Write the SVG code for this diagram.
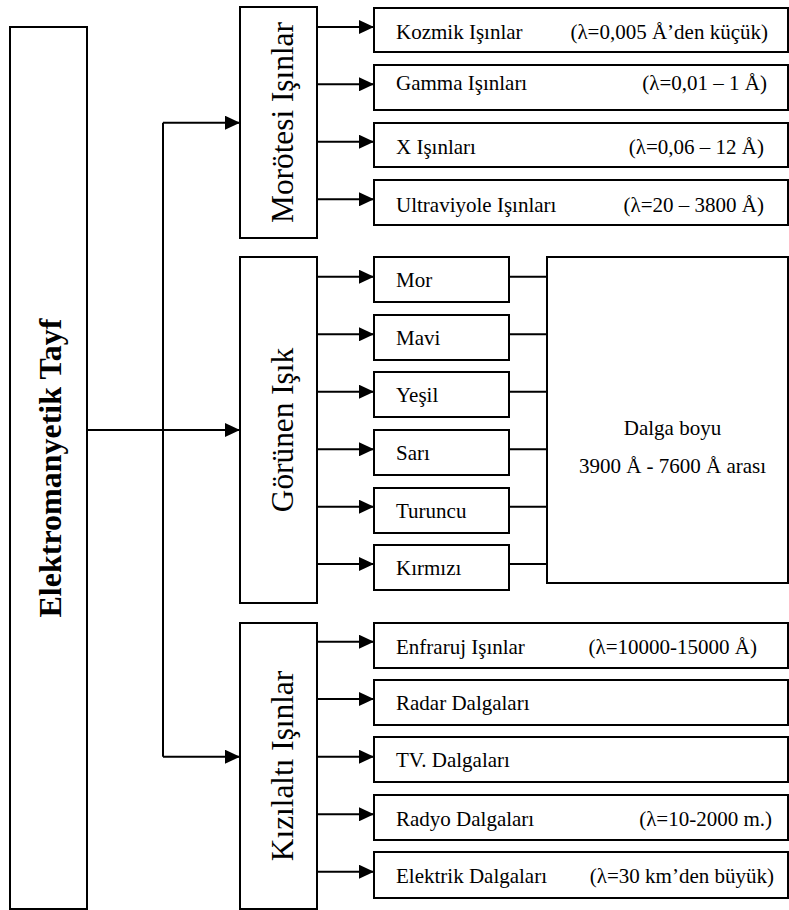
<svg xmlns="http://www.w3.org/2000/svg" width="789" height="910" viewBox="0 0 789 910">
<style>
.box{fill:#fff;stroke:#000;stroke-width:2}
.ln{fill:none;stroke:#000;stroke-width:2}
.t{font-family:"Liberation Serif","Times New Roman",serif;font-size:21px;fill:#000}
.v{font-family:"Liberation Serif","Times New Roman",serif;font-size:31.3px;fill:#000}
.b{font-family:"Liberation Serif","Times New Roman",serif;font-size:32px;font-weight:bold;fill:#000}
</style>
<defs>
<marker id="ah" markerUnits="userSpaceOnUse" markerWidth="15" markerHeight="14" refX="15" refY="7" orient="auto">
<path d="M0,0 L15,7 L0,14 Z" fill="#000"/>
</marker>
</defs>
<rect width="789" height="910" fill="#fff"/>
<g id="connectors">
<path class="ln" d="M163,122.7 V756.7"/>
<path class="ln" d="M163,122.7 H240" marker-end="url(#ah)"/>
<path class="ln" d="M87,430 H240" marker-end="url(#ah)"/>
<path class="ln" d="M163,756.7 H240" marker-end="url(#ah)"/>
<path class="ln" d="M317,27 H374" marker-end="url(#ah)"/>
<path class="ln" d="M317,84.3 H374" marker-end="url(#ah)"/>
<path class="ln" d="M317,141.7 H374" marker-end="url(#ah)"/>
<path class="ln" d="M317,199.3 H374" marker-end="url(#ah)"/>
<path class="ln" d="M317,276.7 H374" marker-end="url(#ah)"/>
<path class="ln" d="M317,334.3 H374" marker-end="url(#ah)"/>
<path class="ln" d="M317,391.7 H374" marker-end="url(#ah)"/>
<path class="ln" d="M317,449.3 H374" marker-end="url(#ah)"/>
<path class="ln" d="M317,506.7 H374" marker-end="url(#ah)"/>
<path class="ln" d="M317,564 H374" marker-end="url(#ah)"/>
<path class="ln" d="M509,276.7 H547 M509,334.3 H547 M509,391.7 H547 M509,449.3 H547 M509,506.7 H547 M509,564 H547"/>
<path class="ln" d="M317,641.7 H374" marker-end="url(#ah)"/>
<path class="ln" d="M317,699 H374" marker-end="url(#ah)"/>
<path class="ln" d="M317,756.7 H374" marker-end="url(#ah)"/>
<path class="ln" d="M317,814.3 H374" marker-end="url(#ah)"/>
<path class="ln" d="M317,871.7 H374" marker-end="url(#ah)"/>
</g>
<g id="elektromanyetik">
<rect class="box" x="10" y="27" width="77" height="882"/>
<text class="b" transform="translate(60.5,468) rotate(-90)" text-anchor="middle">Elektromanyetik  Tayf</text>
</g>
<g id="morotesi">
<rect class="box" x="240" y="7" width="77" height="231"/>
<text class="v" transform="translate(292.5,122.5) rotate(-90)" text-anchor="middle">Morötesi Işınlar</text>
</g>
<g id="gorunen">
<rect class="box" x="240" y="257" width="77" height="346"/>
<text class="v" transform="translate(292.5,430) rotate(-90)" text-anchor="middle">Görünen Işık</text>
</g>
<g id="kizilalti">
<rect class="box" x="240" y="623" width="77" height="286"/>
<text class="v" transform="translate(292.5,766) rotate(-90)" text-anchor="middle">Kızılaltı Işınlar</text>
</g>
<g id="kozmik">
<rect class="box" x="374" y="8" width="414" height="44"/>
<text class="t" x="396" y="39">Kozmik Işınlar</text>
<text class="t" x="768" y="39" text-anchor="end">(λ=0,005 Å’den küçük)</text>
</g>
<g id="gamma">
<rect class="box" x="374" y="65" width="414" height="45"/>
<text class="t" x="396" y="90">Gamma Işınları</text>
<text class="t" x="767" y="90" text-anchor="end">(λ=0,01 – 1 Å)</text>
</g>
<g id="x">
<rect class="box" x="374" y="123" width="414" height="44"/>
<text class="t" x="396" y="154">X Işınları</text>
<text class="t" x="764" y="154" text-anchor="end">(λ=0,06 – 12 Å)</text>
</g>
<g id="ultraviyole">
<rect class="box" x="374" y="180" width="414" height="45"/>
<text class="t" x="396" y="211.5">Ultraviyole Işınları</text>
<text class="t" x="764" y="211.5" text-anchor="end">(λ=20 – 3800 Å)</text>
</g>
<g id="mor">
<rect class="box" x="374" y="257" width="135" height="45"/>
<text class="t" x="396" y="287">Mor</text>
</g>
<g id="mavi">
<rect class="box" x="374" y="315" width="135" height="45"/>
<text class="t" x="396" y="345">Mavi</text>
</g>
<g id="yesil">
<rect class="box" x="374" y="372" width="135" height="45"/>
<text class="t" x="396" y="402">Yeşil</text>
</g>
<g id="sari">
<rect class="box" x="374" y="430" width="135" height="45"/>
<text class="t" x="396" y="460">Sarı</text>
</g>
<g id="turuncu">
<rect class="box" x="374" y="488" width="135" height="45"/>
<text class="t" x="396" y="518">Turuncu</text>
</g>
<g id="kirmizi">
<rect class="box" x="374" y="545" width="135" height="45"/>
<text class="t" x="396" y="575">Kırmızı</text>
</g>
<g id="dalga">
<rect class="box" x="547" y="257" width="241" height="326"/>
<text class="t" x="672.5" y="435" text-anchor="middle">Dalga boyu</text>
<text class="t" x="672.5" y="472.5" text-anchor="middle">3900 Å - 7600 Å arası</text>
</g>
<g id="enfraruj">
<rect class="box" x="374" y="623" width="414" height="45"/>
<text class="t" x="396" y="654">Enfraruj Işınlar</text>
<text class="t" x="757" y="654" text-anchor="end">(λ=10000-15000 Å)</text>
</g>
<g id="radar">
<rect class="box" x="374" y="680" width="414" height="45"/>
<text class="t" x="396" y="710">Radar Dalgaları</text>
</g>
<g id="tv">
<rect class="box" x="374" y="737" width="414" height="45"/>
<text class="t" x="396" y="767">TV. Dalgaları</text>
</g>
<g id="radyo">
<rect class="box" x="374" y="795" width="414" height="45"/>
<text class="t" x="396" y="825.5">Radyo Dalgaları</text>
<text class="t" x="772" y="825.5" text-anchor="end">(λ=10-2000 m.)</text>
</g>
<g id="elektrik">
<rect class="box" x="374" y="852" width="414" height="46"/>
<text class="t" x="396" y="882.5">Elektrik Dalgaları</text>
<text class="t" x="774" y="882.5" text-anchor="end">(λ=30 km’den büyük)</text>
</g>
</svg>
